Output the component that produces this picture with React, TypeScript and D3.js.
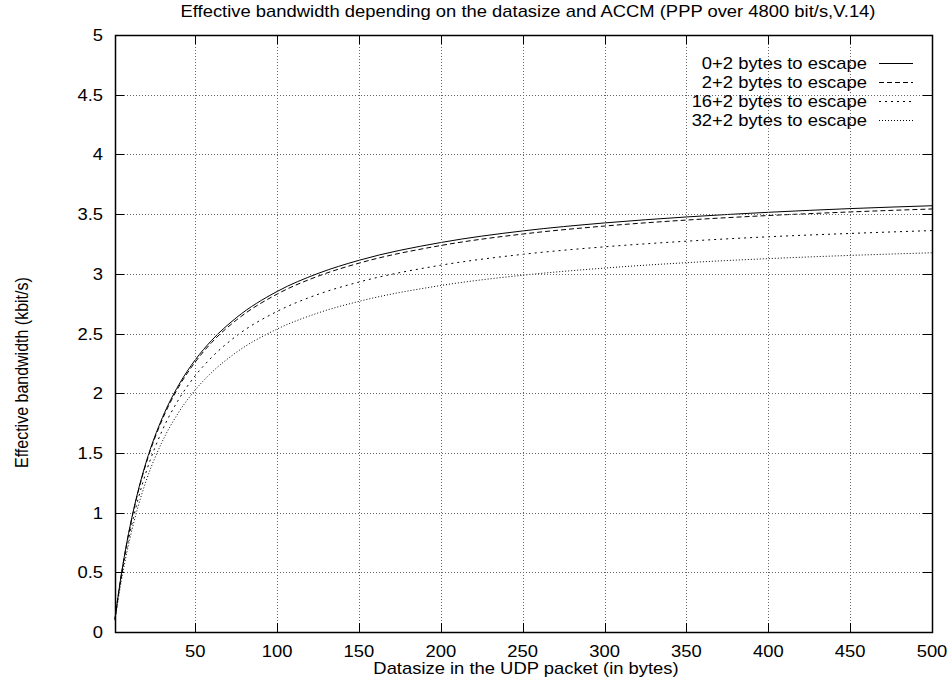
import React from "react";
import * as d3 from "d3";

const datasize = [1, 3, 5, 7, 10, 15, 20, 30, 40, 50, 60, 75, 100, 125, 150, 200, 250, 300, 350, 400, 450, 500];
const esc0 = [0.110, 0.312, 0.494, 0.657, 0.874, 1.176, 1.422, 1.797, 2.071, 2.279, 2.442, 2.631, 2.852, 3.003, 3.113, 3.262, 3.359, 3.426, 3.476, 3.515, 3.546, 3.570];
const esc2 = [0.109, 0.310, 0.490, 0.652, 0.867, 1.167, 1.411, 1.783, 2.055, 2.261, 2.424, 2.611, 2.830, 2.980, 3.089, 3.237, 3.333, 3.400, 3.450, 3.488, 3.518, 3.543];
const esc16 = [0.104, 0.294, 0.465, 0.619, 0.823, 1.107, 1.339, 1.692, 1.950, 2.146, 2.300, 2.478, 2.685, 2.828, 2.931, 3.072, 3.163, 3.226, 3.273, 3.310, 3.338, 3.362];
const esc32 = [0.098, 0.278, 0.439, 0.584, 0.777, 1.046, 1.265, 1.599, 1.842, 2.027, 2.173, 2.341, 2.537, 2.672, 2.769, 2.902, 2.988, 3.048, 3.093, 3.127, 3.154, 3.176];
const seriesNames = ["0+2 bytes to escape", "2+2 bytes to escape", "16+2 bytes to escape", "32+2 bytes to escape"];
const seriesValues = [esc0, esc2, esc16, esc32];
const dashes = ["none", "5,3", "2,4", "1,2"];
const xTicks = [50, 100, 150, 200, 250, 300, 350, 400, 450, 500];
const yTicks = [0, 0.5, 1, 1.5, 2, 2.5, 3, 3.5, 4, 4.5, 5];

const SX = 1.15;

function T({ x, y, anchor, children }: { x: number; y: number; anchor: string; children: React.ReactNode }) {
  return (
    <text transform={`translate(${x},${y}) scale(${SX},1)`} textAnchor={anchor} fontSize={16}>
      {children}
    </text>
  );
}

export default function App() {
  const W = 951, H = 683;
  const left = 115, right = 932, top = 35, bottom = 632;
  const x = d3.scaleLinear().domain([1, 500]).range([left, right]);
  const y = d3.scaleLinear().domain([0, 5]).range([bottom, top]);
  const line = d3.line<number>().x((_, i) => x(datasize[i])).y((v) => y(v)).curve(d3.curveMonotoneX);
  const font = "Liberation Sans, Arial, Helvetica, sans-serif";
  const tick = 9;
  return (
    <svg width={W} height={H} style={{ position: "absolute", left: 0, top: 0, background: "#fff" }} fontFamily={font}>
      <rect x={0} y={0} width={W} height={H} fill="#fff" />
      {seriesValues.map((s, i) => (
        <path key={i} d={line(s) || ""} fill="none" stroke="#000" strokeWidth={1} strokeDasharray={dashes[i]} />
      ))}
      {yTicks.slice(1, -1).map((t) => (
        <line key={"gy" + t} x1={left} x2={right} y1={Math.round(y(t)) + 0.5} y2={Math.round(y(t)) + 0.5} stroke="#666" strokeWidth={1} strokeDasharray="1,2" />
      ))}
      {xTicks.slice(0, -1).map((t) => (
        <line key={"gx" + t} x1={Math.round(x(t)) + 0.5} x2={Math.round(x(t)) + 0.5} y1={top} y2={bottom} stroke="#666" strokeWidth={1} strokeDasharray="1,2" />
      ))}
      {yTicks.map((t) => (
        <g key={"ty" + t}>
          <line x1={left} x2={left + tick} y1={Math.round(y(t)) + 0.5} y2={Math.round(y(t)) + 0.5} stroke="#000" />
          <line x1={right - tick} x2={right} y1={Math.round(y(t)) + 0.5} y2={Math.round(y(t)) + 0.5} stroke="#000" />
          <T x={103} y={y(t) + 6} anchor="end">{t}</T>
        </g>
      ))}
      {xTicks.map((t) => (
        <g key={"tx" + t}>
          <line x1={Math.round(x(t)) + 0.5} x2={Math.round(x(t)) + 0.5} y1={bottom} y2={bottom - tick} stroke="#000" />
          <line x1={Math.round(x(t)) + 0.5} x2={Math.round(x(t)) + 0.5} y1={top} y2={top + tick} stroke="#000" />
          <T x={x(t)} y={bottom + 25} anchor="middle">{t}</T>
        </g>
      ))}
      <rect x={left + 0.5} y={top + 0.5} width={right - left} height={bottom - top} fill="none" stroke="#000" strokeWidth={1.5} />
      {seriesNames.map((n, i) => (
        <g key={n}>
          <T x={867} y={63 + i * 19 + 6} anchor="end">{n}</T>
          <line x1={879} x2={913} y1={63.5 + i * 19} y2={63.5 + i * 19} stroke="#000" strokeDasharray={dashes[i]} />
        </g>
      ))}
      <T x={528} y={17} anchor="middle">Effective bandwidth depending on the datasize and ACCM (PPP over 4800 bit/s,V.14)</T>
      <T x={526} y={674} anchor="middle">Datasize in the UDP packet (in bytes)</T>
      <text transform={`translate(28,468) scale(${SX},1) rotate(-90)`} textAnchor="start" fontSize={16}>Effective bandwidth (kbit/s)</text>
    </svg>
  );
}
